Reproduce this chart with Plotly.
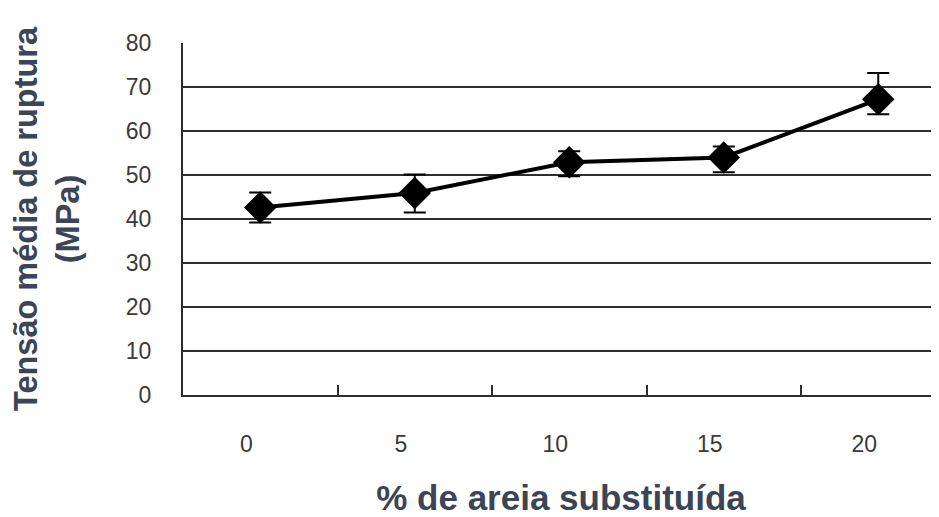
import plotly.graph_objects as go

categories = ["0", "5", "10", "15", "20"]
tensao = [42.6, 45.9, 52.9, 54.0, 67.2]
erro_sup = [3.4, 4.2, 2.5, 2.5, 6.0]
erro_inf = [3.4, 4.4, 3.2, 3.4, 3.4]
y_ticks = [0, 10, 20, 30, 40, 50, 60, 70, 80]

idx = list(range(len(categories)))
label_shift = -0.09
boundaries = [i + 0.5 for i in idx[:-1]]

title_color = "#3b4556"
line_color = "#2e2e2e"

fig = go.Figure()
fig.add_trace(go.Scatter(
    x=idx, y=tensao, mode="lines+markers",
    line=dict(color="black", width=4),
    marker=dict(symbol="diamond", size=25, color="black"),
    error_y=dict(type="data", symmetric=False, array=erro_sup, arrayminus=erro_inf,
                 color="black", thickness=2, width=11),
    showlegend=False,
))
fig.add_trace(go.Scatter(x=idx, y=tensao, xaxis="x2", mode="markers",
                         marker=dict(opacity=0), showlegend=False, hoverinfo="skip"))

xr = [-0.5, -0.5 + 756 / 154.5]
fig.update_layout(
    width=931, height=509,
    margin=dict(l=175, r=0, t=35, b=122),
    paper_bgcolor="white", plot_bgcolor="white",
    font=dict(family="Liberation Sans, Arial, sans-serif"),
    xaxis=dict(
        range=xr, tickvals=[i + label_shift for i in idx], ticktext=categories,
        ticks="", showgrid=False, zeroline=False,
        showline=True, linecolor=line_color, linewidth=2,
        tickfont=dict(size=23, color="#3a3a3a"), ticklabelstandoff=27,
        title=dict(text="<b>% de areia substituída</b>",
                   font=dict(size=35, color=title_color), standoff=37),
    ),
    xaxis2=dict(
        range=xr, overlaying="x", anchor="y", side="bottom",
        tickvals=boundaries, ticks="inside", ticklen=10, tickwidth=2,
        tickcolor=line_color, showticklabels=False, showgrid=False,
        zeroline=False, showline=False,
    ),
    yaxis=dict(
        range=[0, 80], tickvals=y_ticks, ticks="",
        showgrid=True, gridcolor=line_color, gridwidth=2,
        zeroline=False, showline=True, linecolor=line_color, linewidth=2,
        tickfont=dict(size=23, color="#3a3a3a"), ticklabelstandoff=25,
        title=dict(text="<b>Tensão média de ruptura<br>(MPa)</b>",
                   font=dict(size=32.5, color=title_color), standoff=36),
    ),
)
fig.write_html("out.html")
